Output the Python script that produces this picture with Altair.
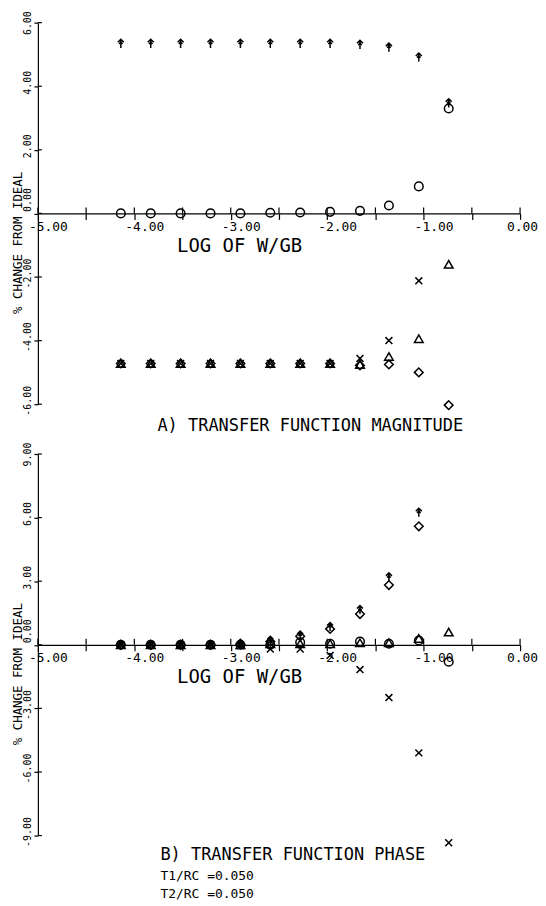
import altair as alt
import pandas as pd

FONT = "DejaVu Sans Mono"

# x positions of the computed points, log10(w/GB)
LOGW = [-4.14, -3.83, -3.52, -3.21, -2.90, -2.59, -2.28, -1.97, -1.66, -1.36, -1.05, -0.74]

# A) transfer function magnitude, % change from ideal
MAG_ARROW = [5.34, 5.34, 5.34, 5.34, 5.34, 5.34, 5.34, 5.34, 5.31, 5.22, 4.91, 3.47]
MAG_CIRCLE = [0.00, 0.00, 0.00, 0.00, 0.00, 0.02, 0.03, 0.05, 0.08, 0.25, 0.85, 3.30]
MAG_TRIANGLE = [-4.72, -4.72, -4.72, -4.72, -4.72, -4.72, -4.72, -4.72, -4.75, -4.50, -3.94, -1.60]
MAG_X = [-4.72, -4.72, -4.72, -4.72, -4.72, -4.72, -4.72, -4.72, -4.56, -4.00, -2.12]
MAG_DIAMOND = [-4.72, -4.72, -4.72, -4.72, -4.72, -4.72, -4.72, -4.72, -4.78, -4.75, -5.00, -6.03]

# B) transfer function phase, % change from ideal
PH_ARROW = [0.00, 0.00, 0.00, 0.00, 0.05, 0.20, 0.45, 0.85, 1.65, 3.19, 6.24]
PH_DIAMOND = [0.00, 0.00, 0.00, 0.00, 0.03, 0.15, 0.40, 0.75, 1.45, 2.82, 5.59]
PH_CIRCLE = [0.00, 0.00, 0.00, 0.00, 0.00, 0.00, 0.12, 0.05, 0.15, 0.05, 0.20, -0.80]
PH_TRIANGLE = [0.00, 0.00, 0.00, 0.00, 0.00, 0.05, 0.05, 0.05, 0.10, 0.10, 0.30, 0.60]
PH_X = [0.00, 0.00, 0.00, 0.00, -0.05, -0.20, -0.20, -0.50, -1.17, -2.49, -5.10, -9.34]

X_TICKS = [-5.0, -4.5, -4.0, -3.5, -3.0, -2.5, -2.0, -1.5, -1.0, -0.5, 0.0]
MAG_Y_TICKS = [-6, -4, -2, 0, 2, 4, 6]
PH_Y_TICKS = [-9, -6, -3, 0, 3, 6, 9]

SERIES = ["arrow", "circle", "triangle", "x", "diamond"]
ARROW_PATH = "M0,1L0,-1M-0.7,-0.3L0,-1L0.7,-0.3M-0.4,0.1L0,-0.4L0.4,0.1"
X_PATH = "M-0.8,-0.8L0.8,0.8M-0.8,0.8L0.8,-0.8"
SHAPES = [ARROW_PATH, "circle", "triangle-up", X_PATH, "diamond"]

W, H = 484, 383


def long_df(series_lists):
    rows = []
    for name, vals in series_lists:
        for xv, yv in zip(LOGW, vals):
            rows.append({"series": name, "logw": xv, "value": yv})
    return pd.DataFrame(rows)


def panel(df, ymax, yticks, title):
    xs = alt.Scale(domain=[-5, 0], nice=False, zero=False)
    ys = alt.Scale(domain=[-ymax, ymax], nice=False, zero=False)
    xaxis = alt.Axis(
        values=X_TICKS, orient="bottom", offset=-H / 2, grid=False,
        domainColor="black", domainWidth=1.2, tickColor="black", tickWidth=1.2, tickSize=6,
        labelExpr="datum.value % 1 === 0 ? replace(format(datum.value, '.2f'), '\u2212', '-') : ''",
        labelFont=FONT, labelFontSize=13, labelColor="black", labelPadding=1,
        labelOffset={"condition": {"test": "datum.value === 0", "value": 2}, "value": 10},
        labelFlush=False, labelOverlap=False, labelBound=False,
        title="LOG OF W/GB", titleFont=FONT, titleFontSize=19, titleFontWeight="normal",
        titleColor="black", titleX=202, titleY=23, titleAlign="center", titleBaseline="top",
    )
    yaxis = alt.Axis(
        values=yticks, orient="left", grid=False,
        domainColor="black", domainWidth=1.2, tickColor="black", tickWidth=1.2, tickSize=4,
        format=".2f", labelExpr="replace(datum.label, '\u2212', '-')",
        labelAngle=270, labelAlign="center", labelBaseline="bottom",
        labelFont=FONT, labelFontSize=10, labelColor="black", labelPadding=1,
        labelOffset={"condition": [
            {"test": "datum.value === 0", "value": -14},
            {"test": "datum.value === %d" % ymax, "value": 0},
        ], "value": -4},
        labelFlush=False, labelOverlap=False, labelBound=False,
        title="% CHANGE FROM IDEAL", titleFont=FONT, titleFontSize=12.5, titleFontWeight="normal",
        titleColor="black", titleAngle=270, titleAlign="center", titleBaseline="bottom",
        titleX=-13, titleY=H / 2 + 29,
    )
    pts = alt.Chart(df).mark_point(filled=False, color="black", strokeWidth=1.5, size=75, opacity=1).encode(
        x=alt.X("logw:Q", scale=xs, axis=xaxis),
        y=alt.Y("value:Q", scale=ys, axis=yaxis),
        shape=alt.Shape("series:N", scale=alt.Scale(domain=SERIES, range=SHAPES), legend=None),
    )
    xt = alt.Chart(pd.DataFrame({"logw": X_TICKS})).mark_rule(color="black", strokeWidth=1.2).encode(
        x=alt.X("logw:Q", scale=xs, axis=xaxis),
        y=alt.value(H / 2 - 6), y2=alt.value(H / 2),
    )
    yt = alt.Chart(pd.DataFrame({"value": yticks})).mark_rule(color="black", strokeWidth=1.2).encode(
        y=alt.Y("value:Q", scale=ys, axis=yaxis),
        x=alt.value(0), x2=alt.value(4),
    )
    return alt.layer(pts, xt, yt).properties(width=W, height=H, title=title)


mag_df = long_df([("arrow", MAG_ARROW), ("circle", MAG_CIRCLE), ("triangle", MAG_TRIANGLE),
                  ("x", MAG_X), ("diamond", MAG_DIAMOND)])
ph_df = long_df([("arrow", PH_ARROW), ("circle", PH_CIRCLE), ("triangle", PH_TRIANGLE),
                 ("x", PH_X), ("diamond", PH_DIAMOND)])

title_a = alt.TitleParams(
    text="A) TRANSFER FUNCTION MAGNITUDE", orient="bottom", anchor="start", frame="group",
    dx=120, offset=3, font=FONT, fontSize=17, fontWeight="normal", color="black",
)
title_b = alt.TitleParams(
    text="B) TRANSFER FUNCTION PHASE", orient="bottom", anchor="start", frame="group",
    dx=123, offset=-2, font=FONT, fontSize=17, fontWeight="normal", color="black",
    subtitle=["T1/RC =0.050", "T2/RC =0.050"], subtitleFont=FONT, subtitleFontSize=13,
    subtitleColor="black", subtitlePadding=6, subtitleLineHeight=18,
)

chart = alt.vconcat(
    panel(mag_df, 6, MAG_Y_TICKS, title_a),
    panel(ph_df, 9, PH_Y_TICKS, title_b),
    spacing=50, bounds="flush",
).properties(
    padding={"left": 4, "top": 0, "right": 0, "bottom": 0},
    background="white",
).configure_view(stroke=None)

chart.save("out.html", embed_options={"renderer": "svg", "actions": False})
